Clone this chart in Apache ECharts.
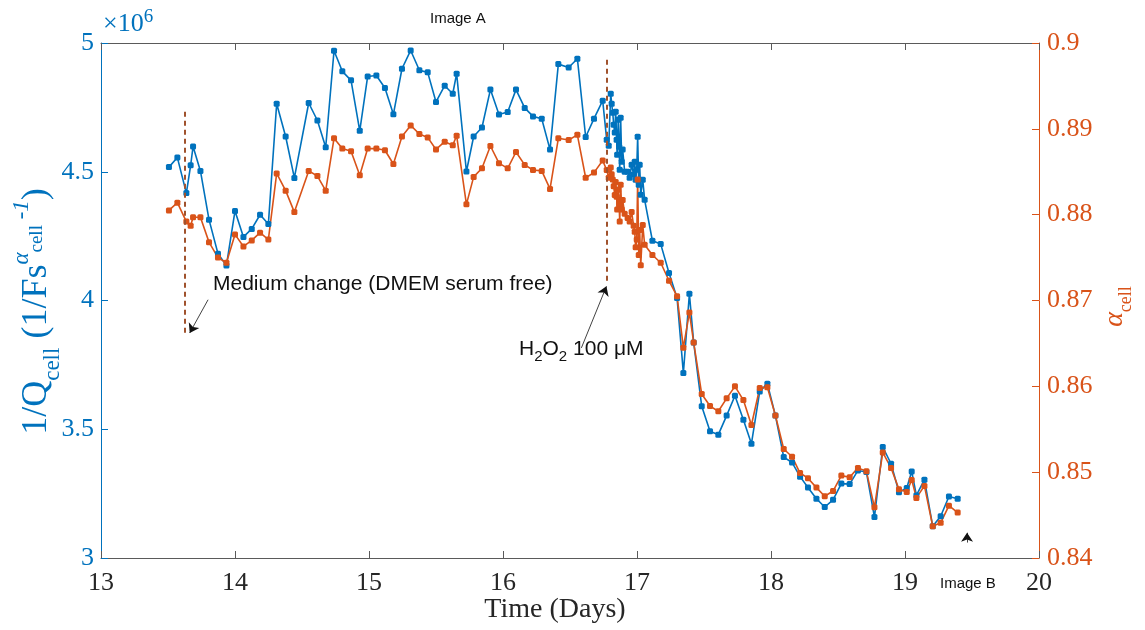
<!DOCTYPE html>
<html>
<head>
<meta charset="utf-8">
<script src="https://cdn.jsdelivr.net/npm/echarts@6/dist/echarts.min.js"></script>
<style>html,body{margin:0;padding:0;background:#fff;}#c{width:1145px;height:630px;}</style>
</head>
<body>
<div id="c"></div>
<script>
// Time in days
var timeDays = [13.507,13.570,13.637,13.669,13.687,13.742,13.806,13.873,13.936,14.000,14.063,14.125,14.187,14.249,14.311,14.378,14.443,14.550,14.615,14.677,14.739,14.801,14.866,14.931,14.990,15.055,15.119,15.182,15.246,15.311,15.376,15.438,15.500,15.565,15.625,15.654,15.727,15.781,15.843,15.906,15.970,16.035,16.097,16.162,16.224,16.289,16.351,16.413,16.490,16.555,16.617,16.679,16.744,
16.774,16.789,16.804,16.811,16.819,16.826,16.834,16.841,16.848,16.852,16.860,16.867,16.871,16.878,16.886,16.893,16.908,16.930,16.945,16.960,16.975,16.983,16.990,16.998,17.005,17.013,17.020,17.028,17.043,17.057,
17.115,17.177,17.239,17.299,17.346,17.391,17.423,17.483,17.545,17.607,17.669,17.731,17.794,17.854,17.916,17.973,18.033,18.095,18.157,18.217,18.276,18.339,18.401,18.463,18.525,18.587,18.649,18.712,18.772,18.834,18.896,18.955,19.013,19.050,19.085,19.145,19.207,19.266,19.328,19.393];
// 1/Q_cell in units of 10^6
var invQcell = [4.518,4.555,4.417,4.525,4.598,4.503,4.314,4.182,4.136,4.348,4.247,4.278,4.333,4.297,4.764,4.637,4.476,4.767,4.699,4.595,4.970,4.890,4.855,4.659,4.870,4.874,4.825,4.723,4.900,4.971,4.894,4.886,4.771,4.834,4.803,4.881,4.501,4.637,4.672,4.819,4.722,4.732,4.819,4.748,4.715,4.706,4.586,4.918,4.905,4.939,4.635,4.706,4.776,
4.624,4.601,4.803,4.764,4.729,4.683,4.652,4.733,4.624,4.566,4.702,4.597,4.508,4.710,4.539,4.586,4.500,4.500,4.477,4.527,4.489,4.539,4.469,4.508,4.636,4.450,4.527,4.411,4.469,4.391,
4.232,4.219,4.107,4.010,3.718,4.026,3.837,3.589,3.492,3.479,3.553,3.630,3.537,3.444,3.647,3.677,3.553,3.392,3.371,3.316,3.274,3.230,3.198,3.226,3.289,3.287,3.340,3.334,3.159,3.431,3.366,3.255,3.272,3.336,3.243,3.304,3.123,3.162,3.239,3.230];
// alpha_cell
var alphaCell = [0.8805,0.8814,0.8792,0.8787,0.8797,0.8797,0.8768,0.8750,0.8744,0.8777,0.8763,0.8770,0.8779,0.8771,0.8848,0.8828,0.8803,0.8851,0.8845,0.8828,0.8889,0.8877,0.8874,0.8846,0.8877,0.8877,0.8875,0.8859,0.8891,0.8904,0.8894,0.8890,0.8876,0.8885,0.8881,0.8892,0.8812,0.8844,0.8854,0.8880,0.8860,0.8854,0.8873,0.8858,0.8852,0.8851,0.8830,0.8889,0.8887,0.8893,0.8843,0.8849,0.8863,
0.8852,0.8843,0.8855,0.8847,0.8841,0.8833,0.8823,0.8838,0.8821,0.8806,0.8829,0.8812,0.8792,0.8835,0.8806,0.8817,0.8801,0.8796,0.8792,0.8803,0.8787,0.8780,0.8762,0.8771,0.8841,0.8753,0.8782,0.8741,0.8788,0.8765,
0.8753,0.8744,0.8723,0.8705,0.8645,0.8686,0.8651,0.8591,0.8577,0.8571,0.8586,0.8600,0.8584,0.8555,0.8598,0.8599,0.8566,0.8527,0.8518,0.8499,0.8493,0.8482,0.8472,0.8478,0.8496,0.8494,0.8505,0.8501,0.8459,0.8523,0.8505,0.8480,0.8477,0.8491,0.8470,0.8484,0.8437,0.8441,0.8461,0.8453];

// Event markers: [time, yTop, yBottom] in left-axis units
var mediumChange = [13.625, 4.733, 3.875];
var h2o2Event = [16.776, 4.935, 4.073];
// Arrows: [[t1,y1],[t2,y2]] (left-axis units)
var arrowMedium = [[13.799, 4.003], [13.662, 3.874]];
var arrowH2O2 = [[16.585, 3.816], [16.772, 4.055]];
var arrowImageA = [[15.652, 5.013], [15.652, 4.947]];
var arrowImageB = [[19.463, 3.060], [19.463, 3.098]];

var BLUE = '#0072BD', ORANGE = '#D95319', BROWN = '#A0522D', AX = '#5a5a5a';
var SERIF = '"Liberation Serif","Times New Roman",serif';
var SANS = '"Liberation Sans",Arial,sans-serif';

var blueData = timeDays.map(function (t, i) { return [t, invQcell[i]]; });
var orangeData = timeDays.map(function (t, i) { return [t, alphaCell[i]]; });

function arrowLine(a) {
  return [{ coord: a[0], symbol: 'none' }, { coord: a[1], symbol: 'arrow' }];
}
function dashLine(e) {
  return [{ coord: [e[0], e[1]] }, { coord: [e[0], e[2]] }];
}

var chart = echarts.init(document.getElementById('c'), null, { renderer: 'canvas' });
chart.setOption({
  animation: false,
  backgroundColor: '#fff',
  grid: { left: 101, right: 106, top: 43, bottom: 72, show: false, containLabel: false, outerBoundsMode: 'none' },
  xAxis: [{
    type: 'value', min: 13, max: 20, interval: 1,
    name: 'Time (Days)', nameLocation: 'middle', nameGap: 38, nameMoveOverlap: false,
    nameTextStyle: { fontFamily: SERIF, fontSize: 28, color: '#262626', padding: [0, 30, 0, 0] },
    axisLine: { show: true, lineStyle: { color: AX, width: 1 } },
    axisTick: { show: true, inside: true, length: 7, lineStyle: { color: AX } },
    axisLabel: { fontFamily: SERIF, fontSize: 26, color: '#262626', margin: 12 },
    splitLine: { show: false }
  }, {
    type: 'value', min: 13, max: 20, interval: 1, position: 'top',
    axisLine: { show: true, lineStyle: { color: AX, width: 1 } },
    axisTick: { show: true, inside: true, length: 7, lineStyle: { color: AX } },
    axisLabel: { show: false }, splitLine: { show: false }
  }],
  yAxis: [{
    type: 'value', min: 3, max: 5, interval: 0.5, position: 'left',
    name: '{a|1/Q}{sub|cell}{a| (1/Fs}{sup|α}{mid|cell}{sup| -1}{a|)}',
    nameLocation: 'middle', nameRotate: 90, nameGap: 37, nameMoveOverlap: false,
    nameTextStyle: {
      color: BLUE, fontFamily: SERIF, padding: [0, 22, 0, 0],
      rich: {
        a: { fontSize: 36, fontFamily: SERIF, color: BLUE, lineHeight: 54 },
        sub: { fontSize: 23, fontFamily: SERIF, color: BLUE, lineHeight: 25, verticalAlign: 'bottom' },
        sup: { fontSize: 23, fontFamily: SERIF, color: BLUE, lineHeight: 25, verticalAlign: 'top', fontStyle: 'italic' },
        mid: { fontSize: 19, fontFamily: SERIF, color: BLUE, lineHeight: 19, verticalAlign: 'middle' }
      }
    },
    axisLine: { show: true, lineStyle: { color: BLUE, width: 1 } },
    axisTick: { show: true, inside: true, length: 7, lineStyle: { color: BLUE } },
    axisLabel: { fontFamily: SERIF, fontSize: 26, color: BLUE, margin: 7,
      formatter: function (v) { return String(parseFloat(v.toFixed(2))); } },
    splitLine: { show: false }
  }, {
    type: 'value', min: 0.84, max: 0.9, interval: 0.01, position: 'right',
    name: '{a|α}{sub|cell}',
    nameLocation: 'middle', nameRotate: 90, nameGap: 56, nameMoveOverlap: false,
    nameTextStyle: {
      color: ORANGE, fontFamily: SERIF, padding: [0, 12, 0, 0],
      rich: {
        a: { fontSize: 28, fontFamily: SERIF, color: ORANGE, lineHeight: 40, fontStyle: 'italic' },
        sub: { fontSize: 18, fontFamily: SERIF, color: ORANGE, lineHeight: 20, verticalAlign: 'bottom' }
      }
    },
    axisLine: { show: true, lineStyle: { color: ORANGE, width: 1 } },
    axisTick: { show: true, inside: true, length: 7, lineStyle: { color: ORANGE } },
    axisLabel: { fontFamily: SERIF, fontSize: 26, color: ORANGE, margin: 8,
      formatter: function (v) { return String(parseFloat(v.toFixed(2))); } },
    splitLine: { show: false }
  }],
  series: [{
    type: 'line', name: '1/Qcell', xAxisIndex: 0, yAxisIndex: 0,
    data: blueData, clip: false,
    symbol: 'roundRect', symbolSize: 6, showSymbol: true,
    lineStyle: { color: BLUE, width: 1.6 }, itemStyle: { color: BLUE },
    markLine: {
      silent: true, symbol: 'none', label: { show: false },
      lineStyle: { color: BROWN, type: [5, 4], width: 2 },
      data: [dashLine(mediumChange), dashLine(h2o2Event)]
    }
  }, {
    type: 'line', name: 'alpha', xAxisIndex: 0, yAxisIndex: 1,
    data: orangeData, clip: false,
    symbol: 'roundRect', symbolSize: 6, showSymbol: true,
    lineStyle: { color: ORANGE, width: 1.6 }, itemStyle: { color: ORANGE }
  }, {
    type: 'line', name: 'arrows', xAxisIndex: 0, yAxisIndex: 0,
    data: [], clip: false,
    markLine: {
      silent: true, symbolSize: 9, label: { show: false },
      lineStyle: { color: '#111', type: 'solid', width: 0.8 },
      data: [arrowLine(arrowMedium), arrowLine(arrowH2O2), arrowLine(arrowImageA), arrowLine(arrowImageB)]
    }
  }],
  graphic: [
    { type: 'text', left: 103, top: 8, style: {
      text: '{a|×10}{s|6}', rich: {
        a: { fontFamily: SERIF, fontSize: 26, fill: BLUE, lineHeight: 32 },
        s: { fontFamily: SERIF, fontSize: 19, fill: BLUE, lineHeight: 20, verticalAlign: 'top' } } } },
    { type: 'text', left: 430, top: 11, style: { text: 'Image A', font: '15px ' + SANS, fill: '#111' } },
    { type: 'text', left: 940, top: 576, style: { text: 'Image B', font: '15px ' + SANS, fill: '#111' } },
    { type: 'text', left: 213, top: 274, style: { text: 'Medium change (DMEM serum free)', font: '21px ' + SANS, fill: '#111' } },
    { type: 'text', left: 519, top: 339, style: {
      text: '{a|H}{s|2}{a|O}{s|2}{a| 100 μM}', rich: {
        a: { fontFamily: SANS, fontSize: 21, fill: '#111', lineHeight: 30 },
        s: { fontFamily: SANS, fontSize: 15, fill: '#111', lineHeight: 16, verticalAlign: 'bottom' } } } }
  ]
});
</script>
</body>
</html>
